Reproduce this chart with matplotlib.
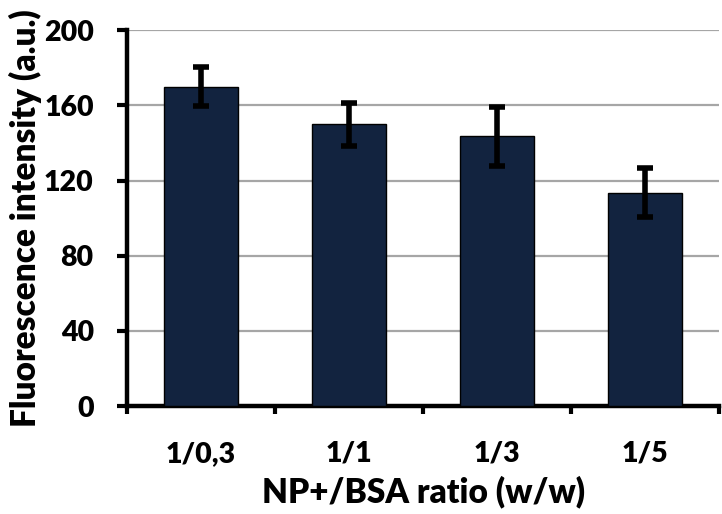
import matplotlib
matplotlib.use("Agg")
import numpy as np
from matplotlib import pyplot as plt

# values
ratios = ["1/0,3", "1/1", "1/3", "1/5"]
intensity = [170, 150, 143.5, 113.5]
errors = [10.5, 11.5, 15.7, 13]
y_ticks = [0, 40, 80, 120, 160, 200]

plt.rcParams["font.family"] = ["Lato", "DejaVu Sans"]
plt.rcParams["font.weight"] = "heavy"

fig = plt.figure(figsize=(7.22, 5.14), dpi=100)
ax = fig.add_axes([0.176, 0.21, 0.82, 0.731])

x = np.arange(len(ratios))
ax.bar(x, intensity, width=0.5, color="#12233f", edgecolor="black",
       linewidth=1.0, zorder=3)
ax.errorbar(x, intensity, yerr=errors, fmt="none", ecolor="black",
            elinewidth=4, capsize=6, capthick=4, zorder=4)

ax.set_xlim(-0.5, len(ratios) - 0.5)
ax.set_ylim(0, 200)
ax.set_yticks(y_ticks)
ax.set_xticks(x)
ax.set_xticklabels(ratios)
ax.set_xticks(np.arange(len(ratios) + 1) - 0.5, minor=True)

ax.yaxis.grid(True, color="#a6a6a6", linewidth=1.6, zorder=0)
ax.set_axisbelow(True)

for side in ["top", "right"]:
    ax.spines[side].set_visible(False)
for side in ["left", "bottom"]:
    ax.spines[side].set_linewidth(3.2)

ax.tick_params(axis="y", direction="out", length=7, width=3, pad=17,
               labelsize=20.5)
ax.tick_params(axis="x", which="major", length=0, pad=25, labelsize=20.5)
ax.tick_params(axis="x", which="minor", direction="out", length=6, width=3)

ax.set_xlabel("NP+/BSA ratio (w/w)", fontsize=24, fontweight="heavy",
              labelpad=6)
ax.set_ylabel("Fluorescence intensity (a.u.)", fontsize=24,
              fontweight="heavy", labelpad=1)

fig.savefig("out.png", dpi=100)
